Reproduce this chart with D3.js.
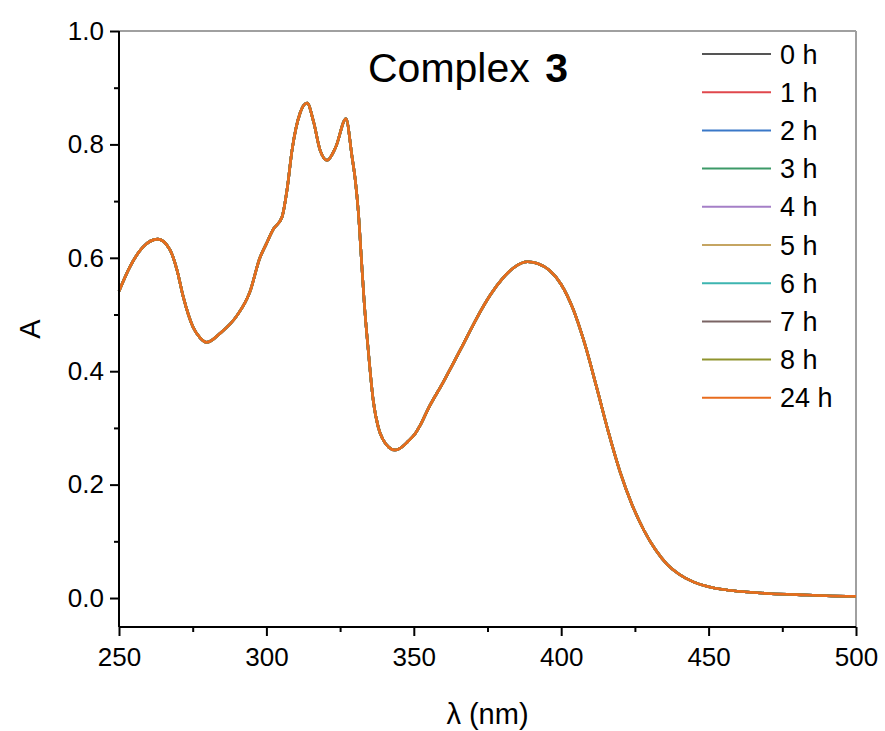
<!DOCTYPE html>
<html>
<head>
<meta charset="utf-8">
<script src="https://cdn.jsdelivr.net/npm/d3@7"></script>
<style>
  body { margin: 0; background: #fff; }
  svg { font-family: Arial, "Liberation Sans", sans-serif; }
</style>
</head>
<body>
<div class="chart"></div>
<script>
// series names (time after dissolution) and colours
const seriesNames = ["0 h", "1 h", "2 h", "3 h", "4 h", "5 h", "6 h", "7 h", "8 h", "24 h"];
const seriesColors = ["#555555", "#e0474c", "#3a78c8", "#3c9a68", "#a57fc7",
                      "#c5a562", "#3db5b0", "#7a6464", "#8f942e", "#e86c1e"];

// wavelength (nm) and absorbance; all spectra overlap
const wavelength = [250, 253.7, 258.1, 263.2, 267.3, 269.7, 271.8, 275.1, 277.5, 279.8,
                    284.3, 290, 294.4, 297.8, 300, 302.3, 305.3, 307, 308.7, 311.4,
                    313.8, 316, 318.2, 320.6, 323.5, 327, 329, 330.2, 331.2, 332.2,
                    333.2, 334.5, 336.2, 338, 339.5, 341.5, 343.6, 345.3, 348, 350.5,
                    352.1, 355, 359.9, 364, 368, 372, 376, 380, 384, 388.7,
                    392, 396, 400, 404, 408, 412, 416, 420, 424, 428,
                    432, 436, 440, 445, 450, 455, 460, 470, 480, 490, 500];
const absorbance = [0.541, 0.584, 0.619, 0.633, 0.614, 0.578, 0.531, 0.478, 0.459, 0.451,
                    0.467, 0.498, 0.540, 0.600, 0.625, 0.650, 0.672, 0.720, 0.790, 0.855,
                    0.873, 0.840, 0.790, 0.772, 0.795, 0.845, 0.780, 0.735, 0.680, 0.600,
                    0.520, 0.440, 0.350, 0.300, 0.280, 0.266, 0.261, 0.264, 0.276, 0.290,
                    0.304, 0.335, 0.380, 0.420, 0.460, 0.500, 0.535, 0.563, 0.583, 0.593,
                    0.590, 0.578, 0.553, 0.510, 0.448, 0.372, 0.293, 0.222, 0.165, 0.120,
                    0.085, 0.059, 0.042, 0.028, 0.020, 0.015, 0.012, 0.008, 0.006, 0.004, 0.003];

const spectra = seriesNames.map((name, i) => ({
    name: name,
    color: seriesColors[i],
    values: wavelength.map((w, j) => ({ x: w, y: absorbance[j] }))
}));

const xMajor = [250, 300, 350, 400, 450, 500];
const xMinor = [275, 325, 375, 425, 475];
const yMajor = [0.0, 0.2, 0.4, 0.6, 0.8, 1.0];
const yMinor = [0.1, 0.3, 0.5, 0.7, 0.9];

const w = 885, h = 731;
const pLeft = 119, pRight = 856, pTop = 31, pBottom = 627;

const x = d3.scaleLinear().domain([250, 500]).range([pLeft, pRight]);
const y = d3.scaleLinear().domain([-0.0511, 1.0]).range([pBottom, pTop]);

const svg = d3.select(".chart")
  .append("svg")
    .attr("width", w)
    .attr("height", h)
    .attr("viewBox", [0, 0, w, h]);

// frame: top and right in grey
svg.append("line").attr("x1", pLeft).attr("x2", pRight).attr("y1", pTop).attr("y2", pTop)
    .attr("stroke", "#a0a0a0").attr("stroke-width", 2);
svg.append("line").attr("x1", pRight).attr("x2", pRight).attr("y1", pTop).attr("y2", pBottom)
    .attr("stroke", "#a0a0a0").attr("stroke-width", 2);

// spectra
const line = d3.line()
    .x(d => x(d.x))
    .y(d => y(d.y))
    .curve(d3.curveMonotoneX);

svg.append("g")
  .selectAll("path")
  .data(spectra)
  .join("path")
    .attr("d", d => line(d.values))
    .attr("fill", "none")
    .attr("stroke", d => d.color)
    .attr("stroke-width", 2.6);

// axes
const fontSize = "26px";

const xAxis = svg.append("g").attr("transform", `translate(0,${pBottom})`);
xAxis.call(d3.axisBottom(x).tickValues(xMajor).tickSize(9).tickPadding(12).tickFormat(d3.format("d")));
xAxis.append("g").call(d3.axisBottom(x).tickValues(xMinor).tickSize(5).tickFormat(""))
    .select(".domain").remove();

const yAxis = svg.append("g").attr("transform", `translate(${pLeft},0)`);
yAxis.call(d3.axisLeft(y).tickValues(yMajor).tickSize(9).tickPadding(6).tickFormat(d3.format(".1f")));
yAxis.append("g").call(d3.axisLeft(y).tickValues(yMinor).tickSize(5).tickFormat(""))
    .select(".domain").remove();

[xAxis, yAxis].forEach(a => {
    a.selectAll(".domain").attr("stroke", "#000").attr("stroke-width", 2);
    a.selectAll(".tick line").attr("stroke", "#000").attr("stroke-width", 2);
    a.selectAll("text").attr("font-size", fontSize).attr("fill", "#000")
      .attr("font-family", "Arial, 'Liberation Sans', sans-serif");
});
xAxis.selectAll(".domain").attr("d", `M${pLeft},0H${pRight}`);
yAxis.selectAll(".domain").attr("d", `M0,${pBottom}V${pTop}`);

// axis titles
svg.append("text")
    .attr("x", (pLeft + pRight) / 2)
    .attr("y", 724)
    .attr("text-anchor", "middle")
    .attr("font-size", "29px")
    .text("λ (nm)");

svg.append("text")
    .attr("transform", `translate(40,${(pTop + pBottom) / 2}) rotate(-90)`)
    .attr("text-anchor", "middle")
    .attr("font-size", "29px")
    .text("A");

// title
const title = svg.append("text")
    .attr("x", 468)
    .attr("y", 82)
    .attr("text-anchor", "middle")
    .attr("font-size", "41px");
title.append("tspan").text("Complex ");
title.append("tspan").attr("font-weight", "bold").attr("dx", 4).text("3");

// legend
const legend = svg.append("g")
  .selectAll("g")
  .data(spectra)
  .join("g")
    .attr("transform", (d, i) => `translate(702,${54 + i * 38.2})`);

legend.append("line")
    .attr("x1", 0).attr("x2", 69)
    .attr("stroke", d => d.color)
    .attr("stroke-width", 2);

legend.append("text")
    .attr("x", 78)
    .attr("y", 9.5)
    .attr("font-size", "27px")
    .text(d => d.name);
</script>
</body>
</html>
